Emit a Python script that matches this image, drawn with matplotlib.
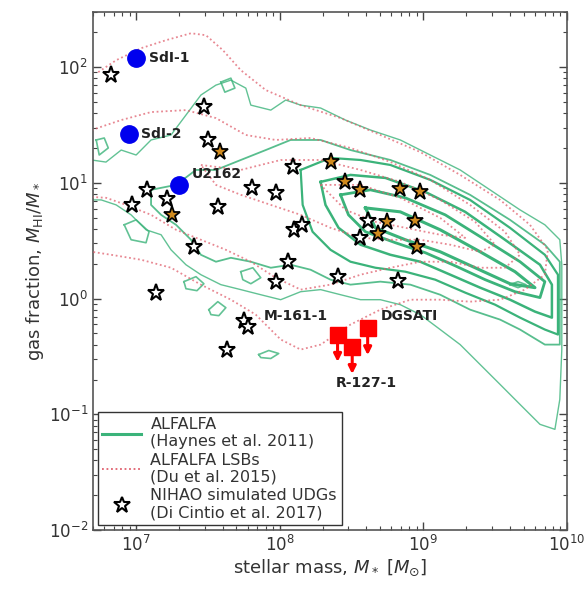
import numpy as np
import matplotlib
matplotlib.use("Agg")
import matplotlib.pyplot as plt
from matplotlib.lines import Line2D

# ---------------- data ----------------
# NIHAO simulated UDGs (white stars)
star_x = [6.7e6, 2.97e7, 3.16e7, 1.19e7, 9.4e6, 1.64e7, 3.7e7, 6.4e7, 9.4e7, 2.53e7,
          1.38e7, 5.6e7, 6.0e7, 4.3e7, 1.14e8, 9.5e7, 1.25e8, 1.44e8, 2.53e8, 6.7e8,
          1.23e8, 4.1e8, 3.65e8]
star_y = [85, 45, 23.5, 8.7, 6.5, 7.3, 6.2, 9.1, 8.2, 2.8,
          1.13, 0.645, 0.574, 0.363, 2.09, 1.40, 3.9, 4.35, 1.55, 1.43,
          13.7, 4.7, 3.36]
# highlighted simulated UDGs (orange stars)
ostar_x = [3.83e7, 1.78e7, 2.26e8, 2.83e8, 3.65e8, 6.9e8, 9.5e8, 5.6e8, 4.87e8, 8.8e8, 9.1e8]
ostar_y = [18.5, 5.3, 15.2, 10.2, 8.7, 8.9, 8.4, 4.6, 3.63, 4.7, 2.8]

# observed galaxies (blue circles)
blue_names = ["SdI-1", "SdI-2", "U2162"]
blue_x = [1.0e7, 8.9e6, 2.0e7]
blue_y = [119, 26.4, 9.6]

# upper limits (red squares)
red_x = [2.53e8, 3.2e8, 4.1e8]
red_y = [0.49, 0.385, 0.56]
red_names = ["M-161-1", "R-127-1", "DGSATI"]
red_label_x = [7.75e7, 2.45e8, 5.02e8]
red_label_y = [0.713, 0.185, 0.713]

# ALFALFA contour outlines (log10 M*, log10 fgas)
G1 = [(6.69, 1.198), (6.79, 1.18), (6.896, 1.284), (7.0, 1.241), (7.104, 1.371), (7.243, 1.414),
      (7.347, 1.586), (7.451, 1.759), (7.556, 1.845), (7.660, 1.888), (7.764, 1.819), (7.799, 1.672),
      (7.938, 1.629), (8.042, 1.716), (8.146, 1.672), (8.285, 1.647), (8.458, 1.543), (8.632, 1.457),
      (8.840, 1.371), (9.049, 1.241), (9.257, 1.112), (9.465, 0.940), (9.674, 0.767), (9.847, 0.638),
      (9.951, 0.509), (9.965, 0.293), (9.965, -0.440), (9.951, -0.871), (9.917, -1.129),
      (9.813, -1.086), (9.674, -0.914), (9.535, -0.741), (9.396, -0.569), (9.257, -0.397),
      (9.118, -0.267), (8.979, -0.138), (8.840, -0.052), (8.701, -0.009), (8.563, -0.009),
      (8.424, 0.034), (8.285, 0.078), (8.146, 0.060), (8.007, -0.009), (7.868, 0.034),
      (7.729, 0.078), (7.590, 0.121), (7.451, 0.207), (7.347, 0.293), (7.243, 0.422),
      (7.174, 0.552), (7.069, 0.595), (6.965, 0.724), (6.861, 0.810), (6.757, 0.853), (6.69, 0.853)]
G2 = [(7.104, 0.940), (7.278, 0.983), (7.417, 1.112), (7.556, 1.112), (7.729, 1.198), (7.903, 1.284),
      (8.076, 1.371), (8.285, 1.371), (8.493, 1.284), (8.771, 1.198), (9.049, 1.069), (9.326, 0.897),
      (9.604, 0.681), (9.847, 0.466), (9.951, 0.319), (9.951, -0.397), (9.847, -0.397),
      (9.674, -0.267), (9.535, -0.181), (9.326, -0.095), (9.118, 0.034), (8.910, 0.121),
      (8.701, 0.147), (8.493, 0.121), (8.354, 0.164), (8.215, 0.250), (8.076, 0.293),
      (7.938, 0.267), (7.799, 0.319), (7.660, 0.353), (7.556, 0.319), (7.451, 0.379),
      (7.382, 0.509), (7.278, 0.638), (7.174, 0.724), (7.104, 0.810), (7.104, 0.940)]
G3 = [(8.146, 1.112), (8.354, 1.216), (8.563, 1.198), (8.771, 1.155), (9.049, 1.026), (9.326, 0.853),
      (9.604, 0.612), (9.847, 0.379), (9.938, 0.207), (9.938, -0.310), (9.847, -0.267),
      (9.674, -0.164), (9.5, -0.052), (9.292, 0.052), (9.083, 0.164), (8.875, 0.233),
      (8.667, 0.267), (8.493, 0.319), (8.354, 0.422), (8.229, 0.578), (8.160, 0.810), (8.146, 1.112)]
G4 = [(8.285, 1.009), (8.493, 1.069), (8.736, 1.043), (9.014, 0.922), (9.292, 0.750), (9.569, 0.509),
      (9.813, 0.293), (9.896, 0.121), (9.896, -0.164), (9.778, -0.112), (9.604, -0.009),
      (9.396, 0.095), (9.188, 0.207), (8.979, 0.319), (8.771, 0.379), (8.563, 0.466),
      (8.410, 0.612), (8.319, 0.810), (8.285, 1.009)]
G5 = [(8.424, 0.897), (8.632, 0.940), (8.875, 0.871), (9.153, 0.724), (9.431, 0.509), (9.674, 0.319),
      (9.847, 0.147), (9.813, 0.009), (9.639, 0.060), (9.431, 0.164), (9.222, 0.284),
      (9.014, 0.397), (8.806, 0.483), (8.597, 0.578), (8.479, 0.724), (8.424, 0.897)]
G6 = [(8.597, 0.784), (8.840, 0.750), (9.118, 0.595), (9.396, 0.405), (9.639, 0.233), (9.778, 0.095),
      (9.604, 0.129), (9.361, 0.267), (9.118, 0.405), (8.875, 0.509), (8.667, 0.612), (8.597, 0.784)]
islands = [
    [(6.917, 0.638), (7.0, 0.681), (7.090, 0.578), (7.069, 0.483), (6.965, 0.509), (6.917, 0.638)],
    [(7.729, 0.233), (7.813, 0.267), (7.868, 0.181), (7.799, 0.129), (7.743, 0.164), (7.729, 0.233)],
    [(7.333, 0.147), (7.417, 0.190), (7.472, 0.129), (7.424, 0.069), (7.347, 0.086), (7.333, 0.147)],
    [(7.507, -0.095), (7.569, -0.026), (7.625, -0.078), (7.576, -0.147), (7.521, -0.138), (7.507, -0.095)],
    [(7.854, -0.483), (7.924, -0.448), (7.993, -0.474), (7.938, -0.517), (7.868, -0.509), (7.854, -0.483)],
    [(9.604, 0.121), (9.660, 0.147), (9.715, 0.121), (9.660, 0.095), (9.604, 0.121)],
    [(6.722, 1.371), (6.778, 1.388), (6.806, 1.302), (6.743, 1.241), (6.722, 1.371)],
    [(7.590, 1.871), (7.660, 1.905), (7.688, 1.819), (7.618, 1.784), (7.590, 1.871)],
]

# ALFALFA LSB contour outlines (log10 M*, log10 fgas)
R1 = [(6.736, 1.957), (6.861, 2.060), (7.035, 2.164), (7.208, 2.233), (7.382, 2.293), (7.486, 2.276),
      (7.604, 2.147), (7.729, 1.974), (7.903, 1.802), (8.146, 1.672), (8.424, 1.560), (8.701, 1.414),
      (8.979, 1.267), (9.257, 1.069), (9.535, 0.853), (9.743, 0.638), (9.868, 0.422), (9.847, 0.207),
      (9.708, 0.078), (9.535, -0.009), (9.326, -0.026), (9.118, -0.009), (8.910, -0.009),
      (8.701, -0.095), (8.493, -0.224), (8.285, -0.397), (8.146, -0.440), (8.007, -0.353),
      (7.833, -0.138), (7.660, -0.009), (7.451, 0.121), (7.243, 0.267), (7.035, 0.336),
      (6.826, 0.379), (6.69, 0.405)]
R2 = [(6.69, 1.457), (6.896, 1.543), (7.104, 1.612), (7.347, 1.629), (7.556, 1.560), (7.764, 1.414),
      (7.972, 1.371), (8.215, 1.388), (8.493, 1.302), (8.771, 1.181), (9.049, 1.026), (9.326, 0.810),
      (9.569, 0.578), (9.674, 0.379), (9.569, 0.267), (9.396, 0.267), (9.188, 0.319), (8.979, 0.319),
      (8.771, 0.267), (8.563, 0.207), (8.354, 0.121), (8.146, 0.078), (7.972, 0.181), (7.799, 0.319),
      (7.625, 0.422), (7.451, 0.509), (7.278, 0.595), (7.104, 0.724), (6.931, 0.810), (6.792, 0.871),
      (6.69, 0.879)]
R3 = [(7.451, 1.155), (7.729, 1.112), (8.007, 1.198), (8.285, 1.198), (8.563, 1.112), (8.840, 1.009),
      (9.118, 0.853), (9.361, 0.664), (9.5, 0.466), (9.396, 0.405), (9.188, 0.466), (8.979, 0.509),
      (8.771, 0.509), (8.563, 0.526), (8.354, 0.612), (8.146, 0.724), (7.938, 0.810), (7.729, 0.897),
      (7.556, 0.983), (7.451, 1.155)]
R4 = [(8.285, 0.983), (8.563, 0.983), (8.840, 0.871), (9.118, 0.698), (9.292, 0.526), (9.118, 0.552),
      (8.875, 0.612), (8.667, 0.664), (8.458, 0.767), (8.285, 0.983)]

# ---------------- figure ----------------
GREEN = "#3bb37a"
RED = "#e0606e"
TXT = "#333333"

fig = plt.figure(figsize=(5.88, 5.97), dpi=100)
ax = fig.add_axes([0.158, 0.112, 0.806, 0.868])
ax.set_xscale("log")
ax.set_yscale("log")


def draw(poly, **kw):
    a = np.array(poly)
    ax.plot(10 ** a[:, 0], 10 ** a[:, 1], **kw)


draw(G1, color=GREEN, lw=1.0, alpha=0.8, zorder=2)
draw(G2, color=GREEN, lw=1.3, alpha=0.85, zorder=2)
for isl in islands:
    draw(isl, color=GREEN, lw=1.2, alpha=0.8, zorder=2)
draw(G3, color=GREEN, lw=1.6, zorder=2)
draw(G4, color=GREEN, lw=1.8, zorder=2)
draw(G5, color=GREEN, lw=2.0, zorder=2)
draw(G6, color=GREEN, lw=2.2, zorder=2)

for r in (R1, R2, R3, R4):
    draw(r, color=RED, lw=1.3, ls=(0, (1, 1.5)), alpha=0.75, zorder=3)

ax.plot(star_x, star_y, ls="none", marker="*", ms=12.5, mfc="white", mec="black",
        mew=1.5, zorder=5)
ax.plot(ostar_x, ostar_y, ls="none", marker="*", ms=12.5, mfc="#d08a1e", mec="black",
        mew=1.3, zorder=5)

ax.plot(blue_x, blue_y, ls="none", marker="o", ms=12.5, color="#0000ee", zorder=6)
for name, x, y in zip(blue_names, blue_x, blue_y):
    off = (9, 8) if name == "U2162" else (9, 0)
    ax.annotate(name, (x, y), xytext=off, textcoords="offset points",
                fontsize=10, fontweight="bold", color="#222222",
                va="center", ha="left", zorder=7)

for x, y in zip(red_x, red_y):
    ax.annotate("", xy=(x, y * 0.58), xytext=(x, y),
                arrowprops=dict(arrowstyle="-|>", color="red", lw=2.2,
                                mutation_scale=11, shrinkA=0, shrinkB=0),
                zorder=6)
ax.plot(red_x, red_y, ls="none", marker="s", ms=11, color="red", zorder=7)
for name, x, y in zip(red_names, red_label_x, red_label_y):
    ax.text(x, y, name, fontsize=10, fontweight="bold", color="#222222",
            va="center", ha="left", zorder=7)

ax.set_xlim(5e6, 1e10)
ax.set_ylim(1e-2, 3e2)

ax.tick_params(which="both", direction="in", top=True, right=True,
               colors="#444444", labelcolor=TXT, labelsize=12)
ax.tick_params(which="major", length=6, width=1)
ax.tick_params(which="minor", length=3, width=0.8)
for s in ax.spines.values():
    s.set_color("#555555")
    s.set_linewidth(1.2)

ax.set_xlabel(r"stellar mass, $M_*$ $[M_{\odot}]$", fontsize=13, color=TXT, labelpad=2)
ax.set_ylabel(r"gas fraction, $M_{\rm HI}/M_*$", fontsize=13, color=TXT, labelpad=2)

handles = [
    Line2D([], [], color=GREEN, lw=2.2),
    Line2D([], [], color=RED, lw=1.3, ls=(0, (1, 1.5))),
    Line2D([], [], ls="none", marker="*", ms=12, mfc="white", mec="black", mew=1.5),
]
labels = ["ALFALFA\n(Haynes et al. 2011)",
          "ALFALFA LSBs\n(Du et al. 2015)",
          "NIHAO simulated UDGs\n(Di Cintio et al. 2017)"]
leg = ax.legend(handles, labels, loc="lower left", fontsize=11.5, fancybox=False,
                edgecolor="#333333", framealpha=1, borderaxespad=0.3,
                handlelength=2.4, labelspacing=0.2, borderpad=0.3, handletextpad=0.6)
for t in leg.get_texts():
    t.set_color(TXT)

fig.savefig("out.png", dpi=100)
